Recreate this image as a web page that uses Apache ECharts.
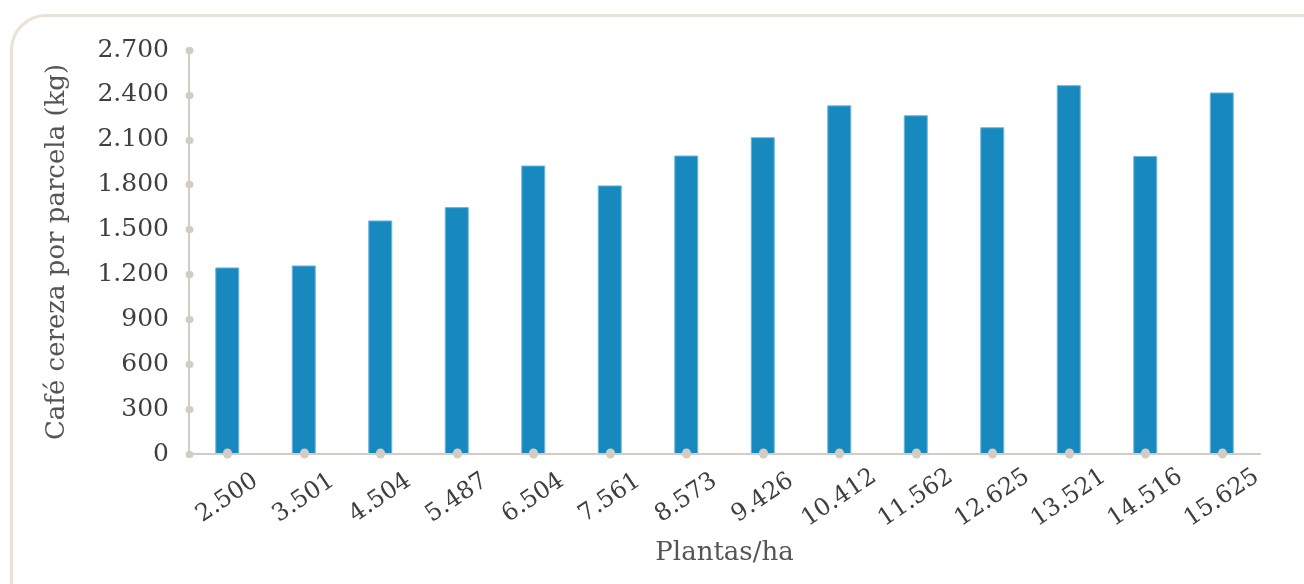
<!DOCTYPE html>
<html>
<head>
<meta charset="utf-8">
<script src="https://cdn.jsdelivr.net/npm/echarts@6/dist/echarts.min.js"></script>
<style>
  html, body { margin: 0; padding: 0; width: 1304px; height: 584px; overflow: hidden; background: #ffffff; }
  #frame { position: absolute; left: 10px; top: 14px; width: 1400px; height: 700px;
           border: 3px solid #eae2d6; border-radius: 36px; box-sizing: border-box; }
  #chart { position: absolute; left: 0; top: 0; width: 1304px; height: 584px; }
</style>
</head>
<body>
<div id="frame"></div>
<div id="chart"></div>
<script>
const categories = ['2.500','3.501','4.504','5.487','6.504','7.561','8.573','9.426','10.412','11.562','12.625','13.521','14.516','15.625'];
const values = [1247, 1260, 1561, 1650, 1928, 1795, 1995, 2117, 2330, 2264, 2184, 2465, 1992, 2416];
const yAxisTitle = 'Café cereza por parcela (kg)';
const xAxisTitle = 'Plantas/ha';

const fmt = v => String(v).replace(/\B(?=(\d{3})+(?!\d))/g, '.');
const FONT = 'DejaVu Serif';
const TEXT = '#3f3f3f';
const AXIS = '#d3ccc4';

const chart = echarts.init(document.getElementById('chart'), null, { renderer: 'canvas' });
chart.setOption({
  animation: false,
  backgroundColor: 'transparent',
  grid: { left: 189, right: 44, top: 50, bottom: 130, containLabel: false },
  xAxis: {
    type: 'category',
    data: categories,
    z: 5,
    name: xAxisTitle,
    nameLocation: 'middle',
    nameGap: 86,
    nameTextStyle: { fontFamily: FONT, fontSize: 26, color: '#555555' },
    axisLine: { show: true, lineStyle: { color: AXIS, width: 2 } },
    axisTick: { show: true, inside: true, alignWithLabel: true, length: 1, lineStyle: { color: AXIS, width: 9, cap: 'round' } },
    axisLabel: { rotate: 34, align: 'center', verticalAlign: 'middle', fontFamily: FONT, fontSize: 24, color: TEXT, margin: 44 },
    splitLine: { show: false }
  },
  yAxis: {
    type: 'value',
    min: 0, max: 2700, interval: 300,
    z: 5,
    name: yAxisTitle,
    nameLocation: 'middle',
    nameGap: 119,
    nameRotate: 90,
    nameTextStyle: { fontFamily: FONT, fontSize: 26, color: '#555555' },
    axisLine: { show: true, lineStyle: { color: AXIS, width: 2 } },
    axisTick: { show: true, length: 1, inside: true, lineStyle: { color: AXIS, width: 7, cap: 'round' } },
    axisLabel: { formatter: fmt, fontFamily: FONT, fontSize: 25, color: TEXT, margin: 20 },
    splitLine: { show: false }
  },
  series: [{
    type: 'bar',
    data: values,
    barWidth: 24,
    itemStyle: { color: '#1789bf', borderColor: '#6fb6dc', borderWidth: 1 },
    z: 1
  }]
});
</script>
</body>
</html>
